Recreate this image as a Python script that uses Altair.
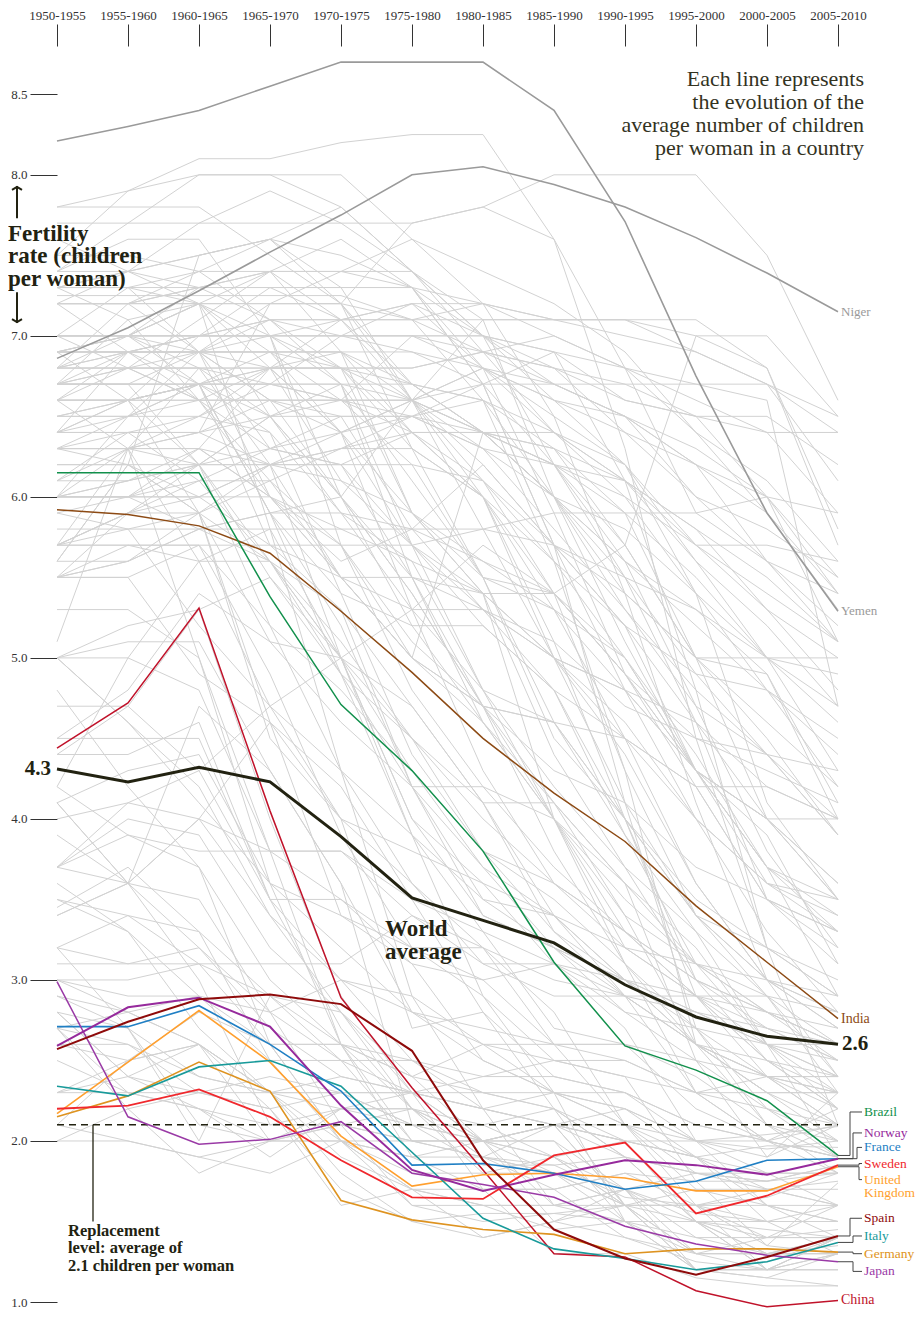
import json
import altair as alt
import pandas as pd

# ---------------- data ----------------
PERIODS = ["1950-1955", "1955-1960", "1960-1965", "1965-1970", "1970-1975", "1975-1980",
           "1980-1985", "1985-1990", "1990-1995", "1995-2000", "2000-2005", "2005-2010"]

WORLD = [4.31, 4.23, 4.32, 4.23, 3.89, 3.51, 3.37, 3.23, 2.97, 2.77, 2.65, 2.60]
YEMEN = [8.21, 8.30, 8.40, 8.55, 8.70, 8.70, 8.70, 8.40, 7.71, 6.75, 5.90, 5.29]
NIGER = [6.86, 7.05, 7.28, 7.52, 7.75, 8.00, 8.05, 7.94, 7.80, 7.61, 7.39, 7.15]
INDIA = [5.92, 5.89, 5.82, 5.65, 5.29, 4.91, 4.50, 4.16, 3.86, 3.46, 3.11, 2.76]
BRAZIL = [6.15, 6.15, 6.15, 5.38, 4.71, 4.30, 3.80, 3.11, 2.59, 2.44, 2.25, 1.91]
CHINA = [4.44, 4.72, 5.31, 4.05, 2.89, 2.33, 1.82, 1.30, 1.28, 1.07, 0.97, 1.01]
NORWAY = [2.59, 2.83, 2.89, 2.71, 2.22, 1.82, 1.69, 1.79, 1.88, 1.85, 1.79, 1.89]
FRANCE = [2.71, 2.71, 2.84, 2.60, 2.31, 1.85, 1.86, 1.80, 1.70, 1.75, 1.88, 1.89]
SWEDEN = [2.20, 2.22, 2.32, 2.15, 1.88, 1.65, 1.64, 1.91, 1.99, 1.55, 1.66, 1.85]
UK = [2.17, 2.49, 2.81, 2.49, 2.03, 1.72, 1.79, 1.80, 1.77, 1.69, 1.69, 1.84]
SPAIN = [2.57, 2.74, 2.88, 2.91, 2.85, 2.56, 1.88, 1.45, 1.27, 1.17, 1.28, 1.41]
ITALY = [2.34, 2.28, 2.46, 2.50, 2.34, 1.93, 1.52, 1.33, 1.27, 1.20, 1.25, 1.37]
GERMANY = [2.15, 2.28, 2.49, 2.31, 1.63, 1.51, 1.45, 1.42, 1.30, 1.33, 1.33, 1.31]
JAPAN = [2.99, 2.15, 1.98, 2.01, 2.12, 1.80, 1.73, 1.65, 1.47, 1.36, 1.29, 1.25]

GRAY_AFRICA = [
    [6.9, 7.0, 7.0, 7.1, 7.1, 7.1, 7.1, 7.1, 7.1, 6.9, 6.7, 6.4],
    [6.9, 6.9, 7.0, 7.1, 7.1, 7.2, 7.2, 7.1, 7.0, 6.9, 6.7, 6.5],
    [7.25, 7.25, 7.25, 7.25, 7.25, 7.1, 6.9, 6.8, 6.6, 6.5, 6.4, 6.4],
    [6.8, 6.9, 7.0, 7.0, 7.1, 7.1, 7.2, 7.0, 6.8, 6.7, 6.6, 4.7],
    [6.0, 6.0, 6.0, 6.2, 6.3, 6.5, 6.7, 6.7, 6.7, 6.7, 6.7, 6.1],
    [6.1, 6.1, 6.2, 6.3, 6.4, 6.6, 6.7, 6.9, 6.6, 6.5, 6.5, 6.2],
    [7.0, 7.0, 7.0, 7.3, 7.3, 7.3, 7.2, 7.1, 7.1, 7.0, 6.8, 5.8],
    [5.6, 5.6, 5.8, 5.9, 6.0, 6.6, 7.1, 7.1, 7.1, 7.1, 6.8, 5.7],
    [6.1, 6.3, 6.4, 6.6, 6.6, 7.0, 7.0, 6.9, 6.8, 6.6, 6.4, 5.9],
    [7.2, 6.9, 6.9, 6.9, 6.8, 6.8, 6.9, 7.0, 6.8, 6.4, 5.9, 5.4],
    [6.4, 6.5, 6.6, 6.8, 6.9, 6.9, 6.8, 6.6, 6.4, 6.2, 5.9, 5.3],
    [6.7, 6.8, 6.8, 6.8, 6.8, 6.7, 6.6, 6.4, 6.1, 5.7, 5.7, 5.6],
    [6.8, 6.8, 6.9, 7.2, 7.4, 7.6, 7.4, 7.2, 6.9, 6.4, 6.1, 5.6],
    [6.6, 6.8, 7.1, 7.4, 7.4, 7.4, 7.0, 6.7, 6.5, 6.2, 6.0, 5.9],
    [7.8, 7.9, 8.1, 8.1, 8.2, 8.25, 8.25, 7.6, 6.8, 5.9, 6.0, 5.4],
    [7.5, 7.9, 8.0, 8.0, 8.0, 7.6, 7.2, 6.5, 5.4, 5.0, 5.0, 5.0],
    [6.7, 6.7, 6.7, 6.7, 6.7, 6.6, 6.4, 6.0, 5.8, 5.4, 4.8, 4.2],
    [6.4, 6.9, 6.9, 6.9, 6.9, 6.7, 6.4, 6.0, 5.3, 4.7, 4.4, 4.3],
    [6.8, 7.2, 7.4, 7.6, 7.8, 7.4, 6.9, 6.4, 6.0, 5.4, 5.0, 4.6],
    [6.9, 6.9, 7.0, 7.0, 7.0, 7.0, 6.8, 6.6, 6.2, 5.7, 5.3, 5.0],
    [5.7, 5.9, 6.0, 6.2, 6.3, 6.4, 6.4, 6.3, 5.9, 5.5, 5.0, 4.7],
    [6.8, 7.0, 7.3, 7.4, 7.4, 7.3, 6.7, 5.7, 4.8, 4.0, 3.6, 3.5],
    [6.2, 6.2, 6.0, 5.7, 5.5, 5.0, 4.6, 4.0, 3.3, 2.9, 2.8, 2.6],
    [6.5, 6.6, 6.7, 6.7, 6.6, 6.4, 6.1, 5.4, 4.3, 3.4, 3.2, 2.9],
    [7.3, 7.3, 7.3, 7.3, 7.1, 6.7, 6.6, 6.3, 6.1, 5.8, 5.3, 4.8],
    [6.6, 6.6, 6.6, 6.6, 6.6, 6.5, 6.3, 6.2, 6.1, 5.8, 5.5, 5.1],
    [5.5, 5.6, 5.9, 6.2, 6.4, 6.6, 6.8, 6.7, 6.5, 6.2, 5.6, 5.2],
    [6.5, 6.6, 6.7, 6.8, 6.8, 6.8, 6.9, 6.8, 6.7, 6.5, 6.0, 5.1],
    [5.7, 5.9, 6.1, 6.3, 6.5, 6.5, 6.4, 6.2, 6.0, 5.7, 5.4, 5.1],
    [6.3, 6.4, 6.5, 6.7, 7.0, 7.0, 7.0, 6.8, 6.4, 6.0, 5.8, 5.5],
    [6.3, 6.3, 6.5, 6.8, 7.1, 7.2, 6.8, 6.4, 6.1, 5.6, 5.0, 4.3],
    [6.9, 6.9, 6.9, 7.0, 7.0, 7.0, 6.9, 6.7, 6.5, 6.3, 6.0, 5.5],
    [7.0, 7.0, 6.8, 6.7, 6.6, 6.6, 6.8, 6.5, 6.2, 5.6, 5.2, 4.7],
    [5.7, 5.8, 5.9, 6.1, 6.3, 6.3, 6.0, 5.6, 5.2, 4.9, 4.8, 4.4],
    [4.0, 4.1, 4.3, 4.7, 5.0, 5.3, 5.7, 5.4, 5.0, 4.3, 3.6, 3.4],
    [5.5, 5.6, 5.8, 5.9, 5.9, 5.8, 5.8, 5.7, 5.5, 5.3, 5.0, 4.9],
    [6.3, 6.5, 6.7, 6.8, 6.8, 6.6, 6.3, 6.0, 5.6, 5.2, 4.8, 4.5],
    [6.9, 7.0, 7.2, 7.4, 7.6, 7.3, 6.7, 5.7, 4.1, 3.4, 3.0, 2.7],
    [5.8, 5.8, 5.8, 5.8, 5.8, 5.6, 5.4, 5.0, 4.6, 4.0, 3.6, 3.3],
    [6.0, 6.1, 6.2, 6.5, 6.6, 6.6, 6.1, 5.6, 5.0, 4.3, 3.7, 3.4],
    [6.7, 6.7, 6.9, 6.9, 6.9, 6.6, 6.2, 5.7, 5.2, 4.3, 4.0, 3.6],
    [6.3, 6.2, 5.9, 4.6, 3.4, 3.1, 2.5, 2.3, 2.3, 2.1, 2.0, 1.8],
    [7.8, 7.8, 7.8, 7.5, 7.2, 6.7, 6.4, 6.2, 5.9, 5.0, 4.5, 3.9],
    [6.0, 6.5, 6.9, 7.1, 7.0, 6.9, 6.7, 6.2, 5.6, 5.3, 4.9, 4.0],
    [5.5, 5.5, 5.7, 5.7, 5.7, 5.7, 5.8, 5.9, 5.9, 5.9, 5.6, 5.4],
    [6.6, 6.9, 6.6, 6.1, 5.5, 5.3, 5.3, 4.8, 4.0, 3.5, 3.2, 2.9],
    [7.2, 7.2, 7.2, 6.9, 6.4, 5.9, 5.4, 4.4, 3.7, 3.0, 2.5, 2.4],
    [7.3, 7.4, 7.5, 7.6, 7.2, 6.3, 6.0, 5.1, 4.0, 2.9, 2.4, 2.4],
    [6.9, 7.0, 7.2, 6.8, 6.1, 5.7, 4.8, 4.0, 3.1, 2.3, 2.0, 1.9],
    [6.6, 6.6, 7.0, 7.0, 6.7, 6.1, 5.5, 5.3, 4.5, 4.0, 3.3, 2.8],
    [6.0, 6.0, 6.2, 6.5, 6.5, 6.5, 6.3, 5.8, 5.3, 4.8, 4.4, 3.9],
    [5.7, 5.7, 5.7, 4.9, 3.9, 3.2, 2.9, 2.5, 2.4, 2.3, 2.4, 2.4],
]

GRAY_ASIA = [
    [7.7, 7.7, 7.7, 7.7, 7.7, 7.7, 7.8, 8.0, 8.0, 8.0, 7.5, 6.6],
    [6.4, 6.4, 6.4, 6.2, 6.2, 5.5, 5.4, 5.4, 5.7, 7.0, 7.0, 6.5],
    [7.4, 7.7, 8.0, 8.0, 7.8, 7.4, 7.1, 6.0, 5.1, 4.3, 3.9, 3.1],
    [7.3, 7.4, 7.5, 7.6, 7.5, 7.3, 6.8, 5.9, 4.9, 4.2, 3.5, 3.3],
    [7.2, 7.2, 7.3, 7.3, 7.3, 7.3, 7.0, 6.2, 5.5, 4.6, 3.5, 3.2],
    [6.9, 6.9, 6.9, 6.6, 6.4, 6.5, 6.6, 5.6, 4.3, 2.6, 2.1, 1.8],
    [7.2, 7.2, 7.2, 7.2, 7.2, 7.7, 7.8, 7.6, 6.3, 4.5, 3.2, 3.0],
    [6.6, 6.6, 6.6, 6.6, 6.6, 6.6, 6.4, 6.3, 5.7, 5.0, 4.0, 4.0],
    [6.4, 6.6, 6.7, 6.9, 6.6, 6.2, 5.5, 4.6, 4.0, 3.4, 2.9, 2.4],
    [6.9, 6.6, 6.2, 5.6, 5.0, 4.5, 4.1, 3.3, 2.9, 2.6, 2.3, 2.1],
    [7.3, 7.1, 6.6, 6.0, 5.5, 5.0, 4.7, 4.3, 4.1, 3.7, 3.5, 3.3],
    [5.5, 5.7, 5.6, 5.6, 5.3, 4.7, 4.1, 3.4, 2.9, 2.6, 2.4, 2.2],
    [5.7, 6.3, 6.4, 6.5, 6.7, 5.5, 4.6, 4.0, 3.6, 2.5, 1.9, 2.1],
    [6.1, 6.4, 6.1, 5.6, 5.0, 3.9, 2.9, 2.3, 2.1, 1.9, 1.8, 1.8],
    [6.8, 6.9, 6.7, 5.9, 5.2, 4.2, 4.2, 4.0, 3.5, 3.1, 2.9, 2.6],
    [5.1, 6.3, 5.6, 4.7, 4.3, 2.9, 2.2, 1.6, 1.7, 1.5, 1.2, 1.2],
    [3.4, 3.6, 4.0, 4.6, 4.0, 2.7, 2.8, 2.4, 2.3, 2.1, 2.0, 1.9],
    [6.6, 6.3, 5.0, 3.6, 2.6, 1.9, 1.7, 1.7, 1.8, 1.6, 1.35, 1.3],
    [4.4, 4.7, 5.3, 4.0, 2.9, 2.3, 1.7, 1.3, 1.3, 1.15, 1.1, 1.1],
    [5.0, 5.0, 4.8, 3.8, 2.6, 2.0, 2.0, 1.8, 1.5, 1.2, 1.15, 1.1],
    [5.9, 5.8, 5.2, 4.7, 4.0, 3.6, 3.2, 2.6, 2.5, 2.3, 2.3, 2.3],
    [6.0, 6.0, 6.0, 6.0, 5.8, 5.8, 5.6, 5.3, 5.0, 4.4, 3.7, 2.9],
    [6.0, 6.0, 6.1, 6.1, 5.7, 5.0, 4.7, 3.8, 3.1, 2.6, 2.3, 2.3],
    [6.3, 6.3, 6.3, 6.2, 5.5, 5.0, 6.4, 6.0, 5.6, 4.7, 3.8, 3.2],
    [6.2, 6.2, 6.2, 6.2, 6.2, 6.4, 6.4, 6.4, 6.2, 5.4, 4.1, 3.5],
    [5.6, 6.2, 7.5, 7.6, 7.3, 6.6, 5.8, 5.0, 4.1, 2.7, 2.2, 2.0],
    [7.3, 7.3, 7.2, 7.2, 7.2, 6.6, 6.4, 6.2, 5.7, 5.0, 4.9, 4.1],
    [7.2, 7.2, 7.3, 7.4, 6.9, 5.9, 5.4, 4.0, 3.2, 2.9, 2.6, 2.2],
    [7.0, 7.0, 6.9, 6.8, 6.4, 5.7, 5.2, 4.8, 3.9, 3.1, 2.6, 1.9],
    [5.7, 5.7, 5.7, 5.2, 4.8, 4.3, 3.8, 3.3, 3.0, 2.7, 2.1, 1.9],
    [4.2, 3.9, 3.8, 3.8, 3.8, 3.4, 3.1, 3.1, 2.9, 2.9, 2.9, 2.8],
    [7.4, 7.4, 7.7, 7.9, 7.7, 7.4, 7.0, 6.6, 6.5, 6.0, 5.6, 5.1],
    [6.7, 6.7, 6.7, 6.7, 6.7, 6.7, 6.4, 6.0, 5.4, 4.1, 3.0, 2.7],
    [7.0, 7.0, 7.0, 7.0, 7.0, 7.2, 7.0, 6.9, 6.1, 4.8, 3.2, 2.1],
    [7.0, 7.0, 7.2, 7.0, 6.0, 5.2, 4.6, 4.1, 3.4, 2.6, 2.5, 2.3],
    [7.0, 7.0, 7.0, 7.0, 6.8, 5.9, 5.5, 4.5, 4.0, 3.4, 3.0, 2.4],
    [6.0, 6.1, 6.3, 6.8, 6.8, 6.3, 5.5, 5.4, 4.9, 4.3, 3.7, 3.5],
    [5.9, 6.0, 6.3, 6.0, 5.7, 5.1, 4.7, 4.6, 3.9, 3.3, 2.6, 2.3],
    [4.5, 4.8, 5.4, 5.1, 5.0, 4.7, 4.1, 4.1, 3.6, 3.2, 2.6, 2.6],
    [4.4, 4.4, 4.6, 3.5, 3.5, 3.1, 3.0, 3.1, 2.7, 2.0, 1.9, 2.3],
    [5.5, 5.9, 6.2, 5.2, 4.3, 3.6, 3.1, 2.9, 2.9, 2.3, 2.0, 2.2],
    [6.0, 6.3, 6.8, 6.5, 5.9, 5.3, 4.8, 4.6, 4.0, 3.0, 2.8, 2.5],
    [4.5, 4.5, 4.5, 3.5, 3.0, 2.5, 2.4, 2.5, 2.4, 1.75, 1.35, 1.74],
    [3.0, 2.9, 2.9, 2.6, 2.6, 2.4, 2.3, 2.3, 2.1, 1.7, 1.6, 1.6],
    [3.7, 3.6, 3.5, 2.8, 2.5, 2.3, 2.4, 2.4, 2.3, 2.0, 1.6, 1.5],
    [7.0, 7.0, 6.7, 5.9, 5.4, 4.4, 3.8, 3.5, 3.1, 2.7, 2.4, 2.1],
]

GRAY_AMERICAS = [
    [6.7, 6.8, 6.8, 6.8, 6.4, 5.3, 4.3, 3.6, 3.2, 2.9, 2.5, 2.2],
    [7.0, 6.8, 6.6, 6.3, 6.2, 6.2, 6.1, 5.7, 5.4, 5.0, 4.6, 4.2],
    [7.5, 7.5, 7.4, 7.4, 7.1, 6.6, 6.0, 5.4, 4.9, 4.3, 3.7, 3.3],
    [7.2, 7.4, 7.3, 7.1, 6.8, 6.4, 6.0, 5.0, 4.5, 3.6, 3.0, 2.8],
    [6.8, 6.8, 6.6, 6.6, 6.5, 5.8, 5.3, 5.0, 4.8, 4.3, 4.0, 3.5],
    [6.9, 6.9, 6.9, 6.6, 6.0, 5.4, 4.7, 4.1, 3.6, 3.1, 2.8, 2.6],
    [6.8, 6.8, 6.8, 6.2, 5.0, 4.3, 3.7, 3.2, 3.0, 2.8, 2.6, 2.5],
    [6.5, 6.5, 6.7, 5.9, 4.9, 4.5, 4.0, 3.6, 3.3, 3.0, 2.7, 2.5],
    [6.7, 6.7, 6.7, 6.5, 6.0, 5.4, 4.7, 4.0, 3.4, 3.1, 2.8, 2.6],
    [6.5, 6.5, 6.5, 6.4, 5.4, 5.2, 5.2, 4.8, 4.5, 4.2, 3.5, 3.1],
    [7.4, 7.6, 7.6, 7.0, 5.7, 4.8, 4.2, 3.7, 3.3, 3.0, 2.8, 2.7],
    [6.3, 6.3, 6.3, 6.0, 5.6, 5.8, 6.2, 5.7, 5.2, 4.6, 4.0, 3.5],
    [6.4, 6.6, 6.7, 6.4, 5.9, 5.6, 4.8, 4.2, 3.7, 3.3, 2.9, 2.3],
    [6.7, 7.1, 7.2, 5.8, 4.3, 3.9, 3.5, 3.4, 3.0, 2.6, 2.3, 2.0],
    [5.7, 5.9, 5.9, 5.6, 4.9, 4.2, 3.5, 3.2, 2.9, 2.8, 2.7, 2.6],
    [3.2, 3.1, 3.1, 3.1, 3.1, 3.4, 3.2, 3.0, 2.9, 2.6, 2.4, 2.3],
    [5.0, 5.1, 5.1, 4.3, 3.6, 2.8, 2.7, 2.6, 2.6, 2.2, 2.0, 1.9],
    [2.7, 2.8, 2.9, 2.8, 3.0, 2.9, 2.6, 2.5, 2.5, 2.3, 2.2, 2.1],
    [4.1, 3.6, 4.7, 4.3, 3.6, 2.1, 1.85, 1.85, 1.65, 1.6, 1.6, 1.5],
    [4.2, 5.0, 5.6, 5.8, 5.0, 4.0, 3.6, 3.1, 2.8, 2.7, 2.6, 2.4],
    [5.3, 5.3, 5.0, 3.8, 3.5, 3.2, 3.2, 2.8, 2.1, 1.8, 1.7, 1.6],
    [5.0, 4.6, 4.2, 3.4, 3.0, 2.8, 2.6, 2.3, 2.2, 2.0, 1.8, 1.8],
    [6.7, 6.7, 6.2, 5.5, 4.9, 3.9, 3.3, 2.7, 2.6, 2.5, 2.4, 2.3],
    [6.6, 6.6, 6.7, 5.7, 5.3, 4.2, 3.7, 3.4, 3.0, 2.8, 2.6, 2.4],
    [6.7, 6.9, 6.9, 6.3, 6.2, 5.7, 5.4, 5.0, 4.4, 3.6, 3.0, 2.9],
    [4.1, 4.3, 4.4, 3.6, 3.4, 3.2, 3.0, 2.6, 2.6, 2.4, 2.1, 2.0],
    [4.7, 4.7, 4.3, 3.5, 2.7, 2.2, 1.9, 1.8, 1.6, 1.5, 1.5, 1.5],
    [3.45, 3.7, 3.3, 2.5, 2.0, 1.8, 1.8, 1.9, 2.0, 2.0, 2.04, 2.09],
    [3.7, 3.9, 3.7, 2.6, 2.0, 1.7, 1.6, 1.6, 1.7, 1.55, 1.5, 1.6],
]

GRAY_EUROPE = [
    [2.9, 2.8, 2.6, 2.0, 2.0, 1.9, 2.0, 2.1, 1.6, 1.3, 1.3, 1.4],
    [2.8, 2.7, 2.1, 2.0, 2.1, 2.0, 2.0, 1.9, 1.6, 1.2, 1.15, 1.3],
    [2.6, 2.6, 2.3, 2.2, 2.3, 2.1, 2.0, 2.0, 1.7, 1.3, 1.2, 1.3],
    [3.6, 3.3, 2.7, 2.3, 2.3, 2.3, 2.3, 2.2, 1.9, 1.5, 1.3, 1.3],
    [2.7, 2.3, 2.2, 1.9, 2.2, 2.3, 2.0, 1.9, 1.7, 1.2, 1.2, 1.4],
    [3.5, 3.3, 2.9, 2.5, 2.5, 2.5, 2.3, 2.2, 1.9, 1.5, 1.2, 1.3],
    [2.7, 2.2, 1.8, 2.0, 2.1, 2.2, 1.8, 1.8, 1.7, 1.4, 1.3, 1.35],
    [2.9, 2.7, 2.0, 2.9, 2.6, 2.5, 2.2, 2.3, 1.5, 1.3, 1.3, 1.3],
    [2.5, 2.3, 2.2, 2.1, 2.2, 2.2, 2.0, 2.0, 1.5, 1.2, 1.25, 1.4],
    [2.3, 2.3, 2.3, 2.4, 2.3, 2.3, 2.0, 1.5, 1.4, 1.3, 1.3, 1.4],
    [3.0, 3.0, 3.1, 2.9, 2.8, 2.4, 2.0, 1.6, 1.5, 1.5, 1.45, 1.4],
    [3.1, 3.1, 3.2, 2.8, 2.1, 1.6, 1.5, 1.55, 1.6, 1.6, 1.7, 1.75],
    [2.3, 2.5, 2.6, 2.3, 1.9, 1.7, 1.6, 1.6, 1.6, 1.6, 1.65, 1.8],
    [2.3, 2.4, 2.6, 2.3, 1.8, 1.5, 1.55, 1.55, 1.5, 1.5, 1.4, 1.45],
    [2.1, 2.5, 2.8, 2.6, 2.0, 1.6, 1.6, 1.45, 1.5, 1.4, 1.4, 1.4],
    [2.6, 2.5, 2.6, 2.3, 2.0, 1.7, 1.4, 1.5, 1.7, 1.8, 1.75, 1.85],
    [3.0, 2.8, 2.6, 2.2, 1.6, 1.7, 1.7, 1.7, 1.8, 1.75, 1.75, 1.85],
    [3.4, 3.6, 4.0, 3.8, 3.8, 3.5, 2.8, 2.2, 2.0, 1.9, 1.97, 1.96],
    [3.7, 4.0, 3.9, 3.2, 2.8, 2.3, 2.2, 2.1, 2.2, 2.0, 2.0, 2.1],
    [3.2, 2.7, 2.4, 2.3, 2.4, 2.3, 2.2, 2.1, 2.0, 1.9, 1.7, 1.6],
    [2.8, 2.4, 2.2, 2.0, 2.0, 2.0, 1.9, 1.8, 1.6, 1.6, 1.4, 1.4],
    [2.7, 2.6, 2.4, 2.3, 2.3, 2.1, 2.0, 2.1, 2.0, 1.5, 1.3, 1.3],
    [2.0, 2.0, 1.9, 1.8, 2.0, 1.9, 1.9, 2.1, 1.6, 1.2, 1.2, 1.4],
    [2.1, 2.0, 1.9, 2.0, 2.2, 2.1, 2.1, 2.2, 1.6, 1.3, 1.4, 1.6],
    [4.8, 4.2, 3.7, 3.0, 2.6, 2.2, 2.1, 1.9, 1.6, 1.6, 1.2, 1.2],
    [3.5, 3.4, 3.1, 2.6, 2.6, 2.4, 2.6, 2.6, 2.1, 1.6, 1.5, 1.5],
    [5.0, 4.6, 4.1, 3.6, 3.2, 2.8, 2.5, 2.3, 2.2, 1.9, 1.6, 1.4],
    [2.8, 2.4, 2.3, 2.3, 2.2, 2.2, 1.9, 1.7, 1.4, 1.25, 1.2, 1.4],
    [5.6, 6.2, 5.9, 5.1, 4.6, 4.2, 3.4, 3.2, 2.8, 2.5, 2.2, 1.9],
    [4.1, 3.6, 3.0, 2.1, 2.1, 2.0, 2.0, 2.1, 2.0, 1.9, 1.5, 1.3],
    [2.0, 2.2, 2.3, 2.2, 1.7, 1.5, 1.4, 1.5, 1.6, 1.7, 1.7, 1.7],
    [3.9, 3.6, 3.2, 2.7, 2.4, 2.3, 2.2, 2.1, 1.9, 1.8, 1.8, 1.6],
]

GRAY_OCEANIA = [
    [3.2, 3.4, 3.3, 2.9, 2.5, 2.0, 1.9, 1.85, 1.9, 1.8, 1.75, 1.8],
    [3.7, 4.1, 4.0, 3.4, 2.8, 2.2, 2.0, 2.1, 2.1, 2.0, 1.95, 2.0],
    [6.3, 6.3, 6.2, 6.2, 6.1, 5.9, 5.6, 5.4, 4.9, 4.5, 4.3, 4.1],
    [6.6, 6.6, 5.9, 4.5, 4.0, 3.8, 3.6, 3.4, 3.2, 3.1, 3.0, 2.8],
    [7.0, 7.3, 7.4, 7.1, 6.7, 5.7, 5.3, 5.1, 4.7, 4.5, 4.4, 4.0],
    [6.4, 6.4, 6.4, 7.2, 7.2, 7.1, 6.6, 6.0, 5.5, 4.9, 4.4, 3.9],
    [7.6, 7.4, 7.2, 6.5, 6.0, 5.5, 5.3, 5.0, 4.8, 4.6, 4.2, 4.0],
    [7.3, 7.3, 6.9, 6.0, 5.5, 5.5, 4.7, 4.6, 4.5, 4.2, 4.2, 4.0],
    [7.2, 7.2, 6.9, 6.9, 6.9, 6.4, 6.0, 5.3, 4.8, 4.3, 4.0, 3.6],
    [5.0, 5.2, 5.3, 5.5, 5.0, 4.0, 3.4, 3.2, 3.0, 2.6, 2.4, 2.1],
    [6.0, 6.0, 5.8, 5.6, 5.1, 4.5, 3.8, 3.6, 3.3, 2.9, 2.5, 2.2],
    [5.5, 5.5, 4.9, 4.6, 4.2, 3.5, 3.3, 3.1, 3.0, 2.9, 2.7, 2.5],
]

REPLACEMENT = 2.1

# ---------------- layout / style (not data) ----------------
FONT = "Liberation Serif"
INK = "#222211"
GRAY = "#d2d2d2"
DARKGRAY = "#9a9a9a"
PX = 71.0  # pixels per period on the x scale (781 / 11)


def px(n):
    """convert a pixel offset to x-index units"""
    return n / PX


def long_df(series_list, prefix):
    rows = []
    for i, s in enumerate(series_list):
        for k, v in enumerate(s):
            rows.append({"id": f"{prefix}{i}", "x": k, "y": v})
    return pd.DataFrame(rows)


XS = alt.Scale(domain=[0, 11], nice=False, zero=False)
YS = alt.Scale(domain=[1.0, 8.8], nice=False, zero=False)

label_expr = json.dumps(PERIODS) + "[datum.value]"
X_AXIS = alt.Axis(orient="top", values=list(range(12)), labelExpr=label_expr, tickSize=22,
                  tickColor="#333333", tickWidth=1, domain=False, grid=False, labelFont=FONT,
                  labelFontSize=13, labelColor="#333333", labelPadding=2, labelAngle=0,
                  labelOverlap=False, labelBound=False, labelFlush=False, title=None)
Y_AXIS = alt.Axis(orient="left", values=[1, 2, 3, 4, 5, 6, 7, 8, 8.5], format=".1f", tickSize=27,
                  tickColor="#333333", tickWidth=1, domain=False, grid=False, labelFont=FONT,
                  labelFontSize=13, labelColor="#333333", labelPadding=3, labelOverlap=False,
                  labelBound=False, labelFlush=False, title=None)


def X(field="x"):
    return alt.X(f"{field}:Q", scale=XS, axis=X_AXIS)


def Y(field="y"):
    return alt.Y(f"{field}:Q", scale=YS, axis=Y_AXIS)


layers = []

# gray background lines
gray_df = pd.concat([long_df(GRAY_AFRICA, "af"), long_df(GRAY_ASIA, "as"),
                     long_df(GRAY_AMERICAS, "am"), long_df(GRAY_EUROPE, "eu"),
                     long_df(GRAY_OCEANIA, "oc")], ignore_index=True)
layers.append(alt.Chart(gray_df).mark_line(color=GRAY, strokeWidth=1).encode(
    x=X(), y=Y(), detail="id:N"))

# replacement level dashed line
layers.append(alt.Chart(pd.DataFrame({"y": [REPLACEMENT], "x": [0], "x2": [11]})).mark_rule(
    color=INK, strokeWidth=1.5, strokeDash=[7, 5]).encode(x=X(), x2="x2:Q", y=Y()))

# highlighted series
HIGHLIGHT = [
    ("Yemen", YEMEN, DARKGRAY, 1.6),
    ("Niger", NIGER, DARKGRAY, 1.6),
    ("India", INDIA, "#8c4a14", 1.5),
    ("Brazil", BRAZIL, "#12904c", 1.5),
    ("China", CHINA, "#c0122a", 1.5),
    ("Germany", GERMANY, "#de9320", 1.6),
    ("United Kingdom", UK, "#ff9f2e", 1.6),
    ("Italy", ITALY, "#189a9a", 1.6),
    ("Sweden", SWEDEN, "#f0282d", 1.8),
    ("France", FRANCE, "#1f7fc4", 1.6),
    ("Japan", JAPAN, "#9a3aa6", 1.5),
    ("Norway", NORWAY, "#962a9c", 2.0),
    ("Spain", SPAIN, "#8e0a0a", 2.0),
    ("World", WORLD, INK, 3.0),
]
COLORS = {name: c for name, _, c, _ in HIGHLIGHT}
for name, series, color, w in HIGHLIGHT:
    df = pd.DataFrame({"x": list(range(12)), "y": series})
    layers.append(alt.Chart(df).mark_line(color=color, strokeWidth=w).encode(x=X(), y=Y()))

# connectors for the crowded right-hand labels: (name, series, label value, vertical offset px)
CONNECTED = [
    ("Brazil", BRAZIL, 2.18, 12),
    ("Norway", NORWAY, 2.05, 15),
    ("France", FRANCE, 1.96, 19),
    ("Sweden", SWEDEN, 1.86, 21),
    ("United Kingdom", UK, 1.76, 21),
    ("Spain", SPAIN, 1.52, 12),
    ("Italy", ITALY, 1.41, 15),
    ("Germany", GERMANY, 1.30, 15),
    ("Japan", JAPAN, 1.19, 15),
]
rows = []
for name, series, lab, off in CONNECTED:
    end = series[-1]
    pts = [(11, end), (11 + px(off), end), (11 + px(off), lab), (11 + px(24), lab)]
    for k, (xx, yy) in enumerate(pts):
        rows.append({"id": name, "k": k, "x": xx, "y": yy})
layers.append(alt.Chart(pd.DataFrame(rows)).mark_line(color="#444444", strokeWidth=1).encode(
    x=X(), y=Y(), detail="id:N", order="k:Q"))

# right-hand labels
lab_rows = []
for name, series, lab, off in CONNECTED:
    if name == "United Kingdom":
        lab_rows.append({"t": "United", "x": 11 + px(26), "y": lab, "c": COLORS[name]})
        lab_rows.append({"t": "Kingdom", "x": 11 + px(26), "y": lab - 0.085, "c": COLORS[name]})
    else:
        lab_rows.append({"t": name, "x": 11 + px(26), "y": lab, "c": COLORS[name]})
lab_df = pd.DataFrame(lab_rows)
layers.append(alt.Chart(lab_df).mark_text(align="left", baseline="middle", font=FONT, fontSize=13.5).encode(
    x=X(), y=Y(), text="t:N", color=alt.Color("c:N", scale=None)))
end_rows = [{"t": n, "x": 11 + px(3), "y": s[-1], "c": COLORS[n]} for n, s in [("India", INDIA), ("China", CHINA)]]
layers.append(alt.Chart(pd.DataFrame(end_rows)).mark_text(align="left", baseline="middle", font=FONT, fontSize=14).encode(
    x=X(), y=Y(), text="t:N", color=alt.Color("c:N", scale=None)))
gl_rows = [{"t": n, "x": 11 + px(3), "y": s[-1]} for n, s in [("Niger", NIGER), ("Yemen", YEMEN)]]
layers.append(alt.Chart(pd.DataFrame(gl_rows)).mark_text(
    align="left", baseline="middle", font=FONT, fontSize=13, color=DARKGRAY).encode(
    x=X(), y=Y(), text="t:N"))

# bold start / end values of the world average
layers.append(alt.Chart(pd.DataFrame({"t": ["4.3"], "x": [0 - px(6)], "y": [WORLD[0]]})).mark_text(
    align="right", baseline="middle", font=FONT, fontSize=21, fontWeight="bold", color=INK).encode(
    x=X(), y=Y(), text="t:N"))
layers.append(alt.Chart(pd.DataFrame({"t": ["2.6"], "x": [11 + px(4)], "y": [WORLD[-1]]})).mark_text(
    align="left", baseline="middle", font=FONT, fontSize=21, fontWeight="bold", color=INK).encode(
    x=X(), y=Y(), text="t:N"))

# "World average"
layers.append(alt.Chart(pd.DataFrame({"t": ["World\naverage"], "x": [4.62], "y": [3.27]})).mark_text(
    align="left", baseline="alphabetic", font=FONT, fontSize=23, fontWeight="bold", color=INK,
    lineBreak="\n", lineHeight=23).encode(x=X(), y=Y(), text="t:N"))

# replacement level annotation + leader
layers.append(alt.Chart(pd.DataFrame({"x": [px(36)], "y": [REPLACEMENT], "y2": [1.50]})).mark_rule(
    color=INK, strokeWidth=1.3).encode(x=X(), y=Y(), y2="y2:Q"))
layers.append(alt.Chart(pd.DataFrame({"t": ["Replacement\nlevel: average of\n2.1 children per woman"],
                                      "x": [px(11)], "y": [1.41]})).mark_text(
    align="left", baseline="alphabetic", font=FONT, fontSize=16.5, fontWeight="bold", color=INK,
    lineBreak="\n", lineHeight=17.5).encode(x=X(), y=Y(), text="t:N"))

# y-axis title with arrows
layers.append(alt.Chart(pd.DataFrame({"t": ["Fertility\nrate (children\nper woman)"],
                                      "x": [px(-49)], "y": [7.59]})).mark_text(
    align="left", baseline="alphabetic", font=FONT, fontSize=23, fontWeight="bold", color=INK,
    lineBreak="\n", lineHeight=22.5).encode(x=X(), y=Y(), text="t:N"))
layers.append(alt.Chart(pd.DataFrame({"x": [px(-40), px(-40)], "y": [7.93, 7.27],
                                      "y2": [7.73, 7.08]})).mark_rule(
    color=INK, strokeWidth=2).encode(x=X(), y=Y(), y2="y2:Q"))
layers.append(alt.Chart(pd.DataFrame({"x": [px(-40)], "y": [7.925]})).mark_point(
    shape="M -1 0.6 L 0 0 L 1 0.6", filled=False, size=100, color=INK, strokeWidth=2, opacity=1).encode(
    x=X(), y=Y()))
layers.append(alt.Chart(pd.DataFrame({"x": [px(-40)], "y": [7.085]})).mark_point(
    shape="M -1 -0.6 L 0 0 L 1 -0.6", filled=False, size=100, color=INK, strokeWidth=2, opacity=1).encode(
    x=X(), y=Y()))

# explanatory note
layers.append(alt.Chart(pd.DataFrame({"t": ["Each line represents\nthe evolution of the\naverage number of children\nper woman in a country"],
                                      "x": [11 + px(26)], "y": [8.55]})).mark_text(
    align="right", baseline="alphabetic", font=FONT, fontSize=22, color="#33331f",
    lineBreak="\n", lineHeight=23).encode(x=X(), y=Y(), text="t:N"))

chart = alt.layer(*layers).properties(
    width=781, height=1256,
    background="white",
    autosize=alt.AutoSizeParams(type="none"),
    padding={"left": 49, "top": 38, "right": 77, "bottom": 8},
).configure_view(stroke=None)

chart.save("out.html", embed_options={"renderer": "svg", "actions": False})
